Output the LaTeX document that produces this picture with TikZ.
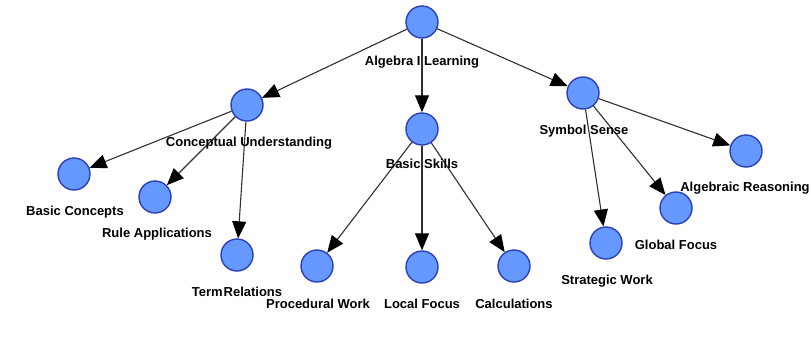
\documentclass[tikz,border=0pt]{standalone}
\usepackage{fontspec}
\setmainfont{Liberation Sans}
\usetikzlibrary{arrows.meta}
\definecolor{nodefill}{HTML}{6699FF}
\definecolor{nodeborder}{HTML}{2A3FB8}
\definecolor{edgecol}{HTML}{303030}
\tikzset{
  concept/.style={circle, draw=nodeborder, fill=nodefill, line width=1.4bp, minimum size=32bp, inner sep=0pt},
  lbl/.style={font=\fontsize{13bp}{15bp}\selectfont\bfseries, text=black, inner sep=0pt, anchor=center},
  link/.style={draw=edgecol, line width=1.1bp, -{Triangle[length=17bp,width=14bp,fill=black,color=black]}}
}
\begin{document}
\begin{tikzpicture}[x=1bp,y=-1bp]
\useasboundingbox (0,0) rectangle (811,344);
\fill[white] (0,0) rectangle (811,344);
% nodes
\node[concept] (alg) at (422,22) {};
\node[concept] (con) at (247,105) {};
\node[concept] (bsk) at (422,129) {};
\node[concept] (sym) at (583,93) {};
\node[concept] (bco) at (74,174) {};
\node[concept] (rul) at (155,197) {};
\node[concept] (ter) at (237,255) {};
\node[concept] (pro) at (317,266) {};
\node[concept] (loc) at (422,267) {};
\node[concept] (cal) at (514,266) {};
\node[concept] (str) at (606,243) {};
\node[concept] (glo) at (676,208) {};
\node[concept] (are) at (746,151) {};
% edges
\draw[link] (alg) -- (con);
\draw[link] (alg) -- (bsk);
\draw[link] (alg) -- (sym);
\draw[link] (con) -- (bco);
\draw[link] (con) -- (rul);
\draw[link] (con) -- (ter);
\draw[link] (bsk) -- (pro);
\draw[link] (bsk) -- (loc);
\draw[link] (bsk) -- (cal);
\draw[link] (sym) -- (are);
\draw[link] (sym) -- (glo);
\draw[link] (sym) -- (str);
% labels
\node[lbl] (alg-l) at (422,62) {Algebra I Learning};
\node[lbl] (con-l) at (249,143) {Conceptual Understanding};
\node[lbl] (bsk-l) at (422,164) {Basic Skills};
\node[lbl] (sym-l) at (584,131) {Symbol Sense};
\node[lbl] (bco-l) at (75,212) {Basic Concepts};
\node[lbl] (rul-l) at (157,234) {Rule Applications};
\node[lbl] (ter-l) at (237,292) {Term\hspace{1bp}Relations};
\node[lbl] (pro-l) at (318,304) {Procedural Work};
\node[lbl] (loc-l) at (422,304) {Local Focus};
\node[lbl] (cal-l) at (514,304) {Calculations};
\node[lbl] (str-l) at (607,281) {Strategic Work};
\node[lbl] (glo-l) at (676,245) {Global Focus};
\node[lbl] (are-l) at (745,188) {Algebraic Reasoning};
\end{tikzpicture}
\end{document}
